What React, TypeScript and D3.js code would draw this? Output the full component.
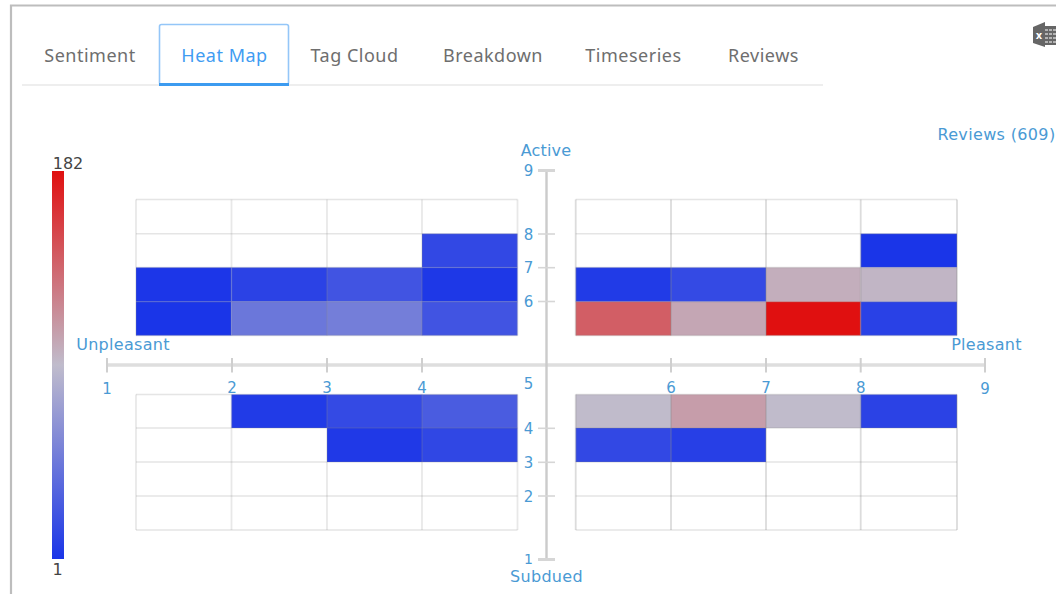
import React from "react";
import * as d3 from "d3";

const tabs = ["Sentiment", "Heat Map", "Tag Cloud", "Breakdown", "Timeseries", "Reviews"];
const tabCenters = [90, 224.5, 354.5, 493, 633.5, 763.5];
const axisTicks = [1, 2, 3, 4, 5, 6, 7, 8, 9];
const xAxisRange = [107, 232, 327, 422, 546.5, 671, 766, 860.7, 985];
const yAxisRange = [559.5, 496, 462.3, 428.3, 365, 301.5, 267.7, 234, 170.5];
const colorStops = [1, 91.5, 182];
const colorRange = ["#1a35e8", "#c0bccc", "#e01010"];

// Review counts, by arousal row (top first), then valence column
const upperLeft = [
  [0, 0, 0, 0],
  [0, 0, 0, 14],
  [2, 10, 22, 3],
  [1, 45, 50, 22],
];
const upperRight = [
  [0, 0, 0, 0],
  [0, 0, 0, 1],
  [5, 15, 99, 95],
  [141, 103, 182, 9],
];
const lowerLeft = [
  [0, 5, 15, 27],
  [0, 0, 4, 13],
  [0, 0, 0, 0],
  [0, 0, 0, 0],
];
const lowerRight = [
  [92, 108, 92, 10],
  [14, 8, 0, 0],
  [0, 0, 0, 0],
  [0, 0, 0, 0],
];

const blue = "#4a9ad4";
const font = "'DejaVu Sans', Verdana, sans-serif";

const axisX = d3.scaleLinear().domain(axisTicks).range(xAxisRange);
const axisY = d3.scaleLinear().domain(axisTicks).range(yAxisRange);
const color = d3.scaleLinear<string>().domain(colorStops).range(colorRange);

const colsLeft = d3.scaleLinear().domain([1, 2, 3, 4, 5]).range([136, 231.5, 327, 422, 517.5]);
const colsRight = d3.scaleLinear().domain([5, 6, 7, 8, 9]).range([575.7, 671, 766, 860.7, 957]);
const rowsUpper = d3.scaleLinear().domain([9, 8, 7, 6, 5]).range([199.5, 233.7, 267.5, 301.7, 335.5]);
const rowsLower = d3.scaleLinear().domain([5, 4, 3, 2, 1]).range([394.5, 428, 462, 496, 530]);
const legendY = d3.scaleLinear().domain([1, 182]).range([559, 171]);

function Quadrant({ values, x, y, vOpacity, hOpacity }: any) {
  const xs = x.domain() as number[];
  const ys = y.domain() as number[];
  const [x0, x1] = [x(xs[0]), x(xs[4])];
  const [y0, y1] = [y(ys[0]), y(ys[4])];
  return (
    <g>
      {values.map((row: number[], r: number) =>
        row.map((v, c) =>
          v > 0 ? (
            <rect
              key={`${r}-${c}`}
              x={x(xs[c])}
              y={y(ys[r])}
              width={x(xs[c + 1]) - x(xs[c])}
              height={y(ys[r + 1]) - y(ys[r])}
              fill={color(v)}
            />
          ) : null
        )
      )}
      {xs.map((t) => (
        <line key={t} x1={x(t)} x2={x(t)} y1={y0} y2={y1} stroke="#8a8a8a" strokeOpacity={vOpacity} strokeWidth={1.8} />
      ))}
      {ys.map((t) => (
        <line key={t} x1={x0} x2={x1} y1={y(t)} y2={y(t)} stroke="#8a8a8a" strokeOpacity={hOpacity} strokeWidth={1.4} />
      ))}
    </g>
  );
}

export default function App() {
  const stops = d3.range(0, 1.001, 0.1);
  return (
    <svg width={1056} height={594} style={{ position: "fixed", left: 0, top: 0, display: "block", background: "#fff" }} fontFamily={font}>
      <defs>
        <linearGradient id="legend" x1="0" x2="0" y1="1" y2="0">
          {stops.map((s) => (
            <stop key={s} offset={s} stopColor={color(1 + s * 181)} />
          ))}
        </linearGradient>
      </defs>

      <path d="M11 594V5.5H1056" fill="none" stroke="#bdbdbd" strokeWidth={2.2} />

      <line x1={22} x2={823} y1={85} y2={85} stroke="#e8e8e8" strokeWidth={1.6} />
      <rect x={159.5} y={24.5} width={129} height={60} rx={2} fill="#fff" stroke="#94c6f8" strokeWidth={1.6} />
      <line x1={159} x2={289} y1={84.6} y2={84.6} stroke="#3c9bf0" strokeWidth={3} />
      {tabs.map((t, i) => (
        <text key={t} x={tabCenters[i]} y={62} textAnchor="middle" fontSize={18} fontFamily="'Noto Sans', sans-serif" letterSpacing={0.5} fill={i === 1 ? "#3f9cf2" : "#6e6e6e"}>
          {t}
        </text>
      ))}

      <g fill="#666">
        <path d="M1033 27L1045 22V47L1033 43Z" />
        <rect x={1044} y={26} width={12} height={19} />
      </g>
      <text x={1039} y={39} fontSize={10} textAnchor="middle" fill="#fff" fontWeight="bold">x</text>
      <g stroke="#fff" strokeWidth={1}>
        {[30, 34, 38, 42].map((v) => <line key={v} x1={1045} x2={1056} y1={v} y2={v} strokeDasharray="3 1" />)}
      </g>

      <text x={1055.5} y={139.5} textAnchor="end" fontSize={16} letterSpacing={0.35} fill={blue}>Reviews (609)</text>

      <rect x={52} y={171} width={12} height={388} fill="url(#legend)" />
      <text x={68} y={169} textAnchor="middle" fontSize={16} fill="#444">{legendY.domain()[1]}</text>
      <text x={57.5} y={575} textAnchor="middle" fontSize={16} fill="#444">{legendY.domain()[0]}</text>

      <Quadrant values={upperLeft} x={colsLeft} y={rowsUpper} vOpacity={0.2} hOpacity={0.22} />
      <Quadrant values={upperRight} x={colsRight} y={rowsUpper} vOpacity={0.3} hOpacity={0.22} />
      <Quadrant values={lowerLeft} x={colsLeft} y={rowsLower} vOpacity={0.2} hOpacity={0.22} />
      <Quadrant values={lowerRight} x={colsRight} y={rowsLower} vOpacity={0.3} hOpacity={0.22} />

      <line x1={axisX(1)} x2={axisX(9)} y1={axisY(5)} y2={axisY(5)} stroke="#dedede" strokeWidth={3.5} />
      {axisTicks.filter((t) => t !== 5).map((t) => (
        <line key={t} x1={axisX(t)} x2={axisX(t)} y1={358} y2={372.5} stroke="#cfcfcf" strokeWidth={2} />
      ))}
      <line x1={axisX(5)} x2={axisX(5)} y1={axisY(9)} y2={axisY(1)} stroke="#cbcbcb" strokeWidth={2.4} />
      {axisTicks.filter((t) => t !== 5).map((t) => (
        <line key={t} x1={538} x2={555} y1={axisY(t)} y2={axisY(t)} stroke="#d6d6d6" strokeWidth={t === 1 || t === 9 ? 3 : 1.6} />
      ))}

      {axisTicks.filter((t) => t !== 5).map((t) => (
        <text key={t} x={axisX(t)} y={t === 1 || t === 9 ? 393.5 : 392.5} textAnchor="middle" fontSize={15} fill={blue}>{t}</text>
      ))}
      {axisTicks.map((t) => (
        <text key={t} x={528.5} y={t === 5 ? 389 : t === 1 ? 563.5 : axisY(t) + 5.5} textAnchor="middle" fontSize={t === 1 ? 14 : 15} fill={blue}>{t}</text>
      ))}

      <text x={546} y={155.5} textAnchor="middle" fontSize={16} letterSpacing={0.2} fill={blue}>Active</text>
      <text x={546.5} y={582} textAnchor="middle" fontSize={16} letterSpacing={0.3} fill={blue}>Subdued</text>
      <text x={123} y={349.5} textAnchor="middle" fontSize={16} letterSpacing={0.3} fill={blue}>Unpleasant</text>
      <text x={986.5} y={349.5} textAnchor="middle" fontSize={16} letterSpacing={0.3} fill={blue}>Pleasant</text>
    </svg>
  );
}
